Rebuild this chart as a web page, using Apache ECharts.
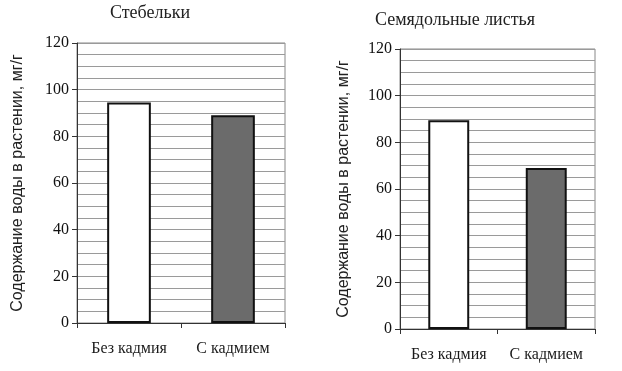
<!DOCTYPE html>
<html><head><meta charset="utf-8">
<script src="https://cdn.jsdelivr.net/npm/echarts@6/dist/echarts.min.js"></script>
<style>html,body{margin:0;padding:0;background:#fff}#c{width:622px;height:371px}</style>
</head><body><div id="c"></div>
<script>
const categories = ['Без кадмия', 'С кадмием'];
const stemValues = [94.5, 89];
const leafValues = [89.5, 69];
const titles = ['Стебельки', 'Семядольные листья'];
const yAxisName = 'Содержание воды в растении, мг/г';
const yTicks = [0, 20, 40, 60, 80, 100, 120];

const barColors = ['#ffffff', '#6b6b6b'];
const serif = '"Liberation Serif", "DejaVu Serif", serif';
const sans = '"Liberation Sans", Arial, sans-serif';

function xAx(gi){
  return {
    type: 'category', gridIndex: gi, data: categories,
    axisLine: {lineStyle: {color: '#333', width: 1}},
    axisTick: {show: true, length: 5, lineStyle: {color: '#333'}},
    axisLabel: {interval: 0, hideOverlap: false, color: '#1a1a1a', fontFamily: serif, fontSize: 16, margin: 18}
  };
}
function yAx(gi, gap){
  return {
    type: 'value', gridIndex: gi, min: yTicks[0], max: yTicks[yTicks.length-1], interval: 20,
    name: yAxisName, nameLocation: 'middle', nameRotate: 90, nameGap: gap,
    nameTextStyle: {fontFamily: sans, fontSize: 16, color: '#222'},
    axisLine: {show: true, lineStyle: {color: '#333'}},
    axisTick: {show: true, length: 5, lineStyle: {color: '#333'}},
    axisLabel: {color: '#111', fontFamily: serif, fontSize: 16, margin: 8},
    splitLine: {show: true, lineStyle: {color: '#9a9a9a', width: 1}},
    minorTick: {show: false, splitNumber: 4},
    minorSplitLine: {show: true, lineStyle: {color: '#9a9a9a', width: 1}}
  };
}
function barSeries(gi, vals){
  return {
    type: 'bar', xAxisIndex: gi, yAxisIndex: gi, barWidth: '42%',
    data: vals.map((v, i) => ({value: v, itemStyle: {color: barColors[i], borderColor: '#111', borderWidth: 2}})),
    silent: true
  };
}
const chart = echarts.init(document.getElementById('c'));
chart.setOption({
  backgroundColor: '#fff',
  animation: false,
  title: [
    {text: titles[0], left: 145, top: -1, textAlign: 'center', textStyle: {fontFamily: serif, fontSize: 18, fontWeight: 'normal', color: '#222'}},
    {text: titles[1], left: 450, top: 6, textAlign: 'center', textStyle: {fontFamily: serif, fontSize: 18, fontWeight: 'normal', color: '#222'}}
  ],
  grid: [
    {left: 77, right: 337, top: 43, bottom: 48, show: true, borderColor: '#888', borderWidth: 1},
    {left: 400, right: 27, top: 49, bottom: 42, show: true, borderColor: '#888', borderWidth: 1}
  ],
  xAxis: [xAx(0), xAx(1)],
  yAxis: [yAx(0, 51), yAx(1, 48)],
  series: [barSeries(0, stemValues), barSeries(1, leafValues)]
});
</script></body></html>
